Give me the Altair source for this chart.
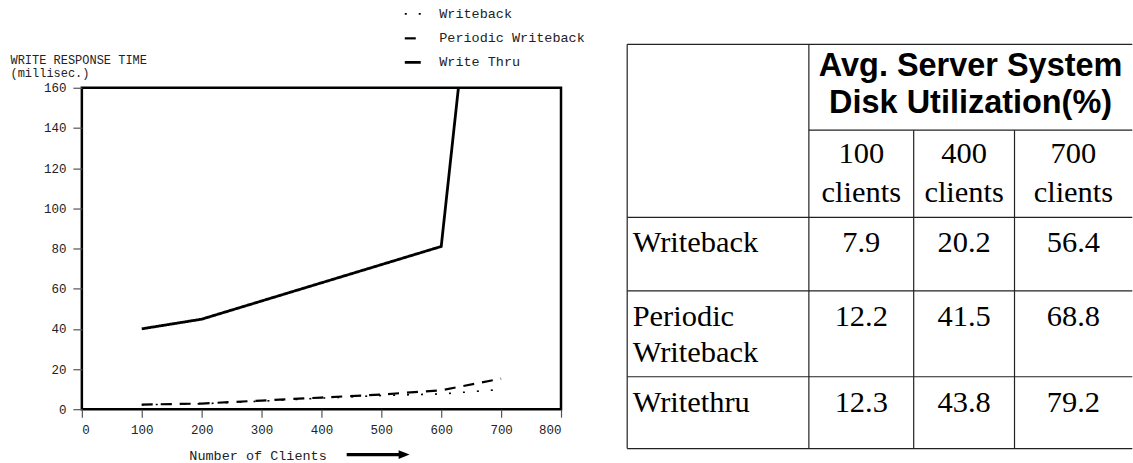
import altair as alt
import pandas as pd

# ---------------- data ----------------
series_names = ["Writeback", "Periodic Writeback", "Write Thru"]

wb_clients = [100, 200, 300, 400, 500, 600, 700]
wb_time = [2.2, 2.7, 4.0, 5.5, 6.8, 7.6, 9.8]

pw_clients = [100, 200, 300, 400, 500, 600, 700]
pw_time = [2.3, 2.8, 4.3, 5.8, 7.3, 9.4, 15.2]

wt_clients = [100, 200, 600, 700]
wt_time = [40.0, 44.8, 81.0, 356.0]

x_ticks = [0, 100, 200, 300, 400, 500, 600, 700, 800]
y_ticks = [0, 20, 40, 60, 80, 100, 120, 140, 160]

table_header = "Avg. Server System\nDisk Utilization(%)"
table_col_labels = ["100\nclients", "400\nclients", "700\nclients"]
table_row_labels = ["Writeback", "Periodic\nWriteback", "Writethru"]
util_writeback = [7.9, 20.2, 56.4]
util_periodic = [12.2, 41.5, 68.8]
util_writethru = [12.3, 43.8, 79.2]

# ---------------- line chart ----------------
rows = []
for name, xs, ys in [
    (series_names[0], wb_clients, wb_time),
    (series_names[1], pw_clients, pw_time),
    (series_names[2], wt_clients, wt_time),
]:
    for c, t in zip(xs, ys):
        rows.append({"series": name, "clients": c, "time": t})
lines_df = pd.DataFrame(rows)

MONO = "Liberation Mono"
PW, PH = 480, 322

lines = alt.Chart(lines_df).mark_line(clip=True, color="black").encode(
    x=alt.X(
        "clients:Q",
        scale=alt.Scale(domain=[0, 800], nice=False),
        axis=alt.Axis(
            values=x_ticks, title="Number of Clients", tickSize=8, labelPadding=6,
            titleX=176, titleY=46.5, titleAlign="center", titleBaseline="middle",
            titleFontSize=13.5,
        ),
    ),
    y=alt.Y(
        "time:Q",
        scale=alt.Scale(domain=[0, 160], nice=False),
        axis=alt.Axis(
            values=y_ticks, title=["WRITE RESPONSE TIME", "(millisec.)"], tickSize=9,
            labelPadding=7, titleAngle=0, titleAlign="left", titleBaseline="alphabetic",
            titleX=-72, titleY=-24, titleLineHeight=13, titleFontSize=12,
        ),
    ),
    strokeDash=alt.StrokeDash(
        "series:N",
        scale=alt.Scale(domain=series_names, range=[[2, 12], [11, 8], [1, 0]]),
        legend=alt.Legend(
            title=None, orient="none", legendX=322, legendY=-83,
            symbolType="stroke", symbolSize=256, symbolStrokeColor="black",
            symbolStrokeWidth=2.5, labelFont=MONO, labelFontSize=13.5,
            labelColor="#222", labelOffset=17, rowPadding=8, padding=0,
        ),
    ),
    strokeWidth=alt.StrokeWidth(
        "series:N",
        scale=alt.Scale(domain=series_names, range=[1.6, 2.8, 2.5]),
        legend=None,
    ),
)

one = pd.DataFrame({"k": [0]})
arrow_line = alt.Chart(one).mark_rule(color="black", strokeWidth=3.3).encode(
    x=alt.value(265.3), x2=alt.value(318), y=alt.value(367.5)
)
arrow_head = alt.Chart(one).mark_point(
    shape="M-1,-0.8L1,0L-1,0.8Z", filled=True, color="black", opacity=1, size=121
).encode(x=alt.value(322.8), y=alt.value(367.5))

left = alt.layer(lines, arrow_line, arrow_head).properties(
    width=PW, height=PH, view=alt.ViewBackground(stroke="black", strokeWidth=2.5)
)

# ---------------- table ----------------
# table layout (in px, relative to the plot origin shared with the left chart)
TW, TH = 506, 361.5
col_edges = [0, 182, 287, 388, TW]
row_edges = [-43.5, 42.5, 129.8, 203.5, 289.5, 361.5]

segs = [
    (col_edges[0], row_edges[0], col_edges[4], row_edges[0]),
    (col_edges[1], row_edges[1], col_edges[4], row_edges[1]),
    (col_edges[0], row_edges[2], col_edges[4], row_edges[2]),
    (col_edges[0], row_edges[3], col_edges[4], row_edges[3]),
    (col_edges[0], row_edges[4], col_edges[4], row_edges[4]),
    (col_edges[0], row_edges[5], col_edges[4], row_edges[5]),
    (col_edges[0], row_edges[0], col_edges[0], row_edges[5]),
    (col_edges[1], row_edges[0], col_edges[1], row_edges[5]),
    (col_edges[2], row_edges[1], col_edges[2], row_edges[5]),
    (col_edges[3], row_edges[1], col_edges[3], row_edges[5]),
]
seg_df = pd.DataFrame(segs, columns=["x", "y", "x2", "y2"])

xs_t = alt.Scale(domain=[0, TW], nice=False, zero=False)
ys_t = alt.Scale(domain=[0, TH], nice=False, zero=False, reverse=True)

grid = alt.Chart(seg_df).mark_rule(color="#222", strokeWidth=1.2).encode(
    x=alt.X("x:Q", scale=xs_t, axis=None),
    y=alt.Y("y:Q", scale=ys_t, axis=None),
    x2="x2:Q",
    y2="y2:Q",
)

header_df = pd.DataFrame(
    {"x": [(col_edges[1] + col_edges[4]) / 2], "y": [row_edges[0] + 31.5], "t": [table_header]}
)
header = alt.Chart(header_df).mark_text(
    font="Liberation Sans", fontWeight="bold", fontSize=32.5, lineBreak="\n",
    lineHeight=37, baseline="alphabetic", align="center", color="black",
).encode(
    x=alt.X("x:Q", scale=xs_t, axis=None),
    y=alt.Y("y:Q", scale=ys_t, axis=None),
    text="t:N",
)

col_centers = [(col_edges[i] + col_edges[i + 1]) / 2 for i in range(1, 4)]
colhead_df = pd.DataFrame(
    {"x": col_centers, "y": [row_edges[1] + 33] * 3, "t": table_col_labels}
)
colhead = alt.Chart(colhead_df).mark_text(
    font="Liberation Serif", fontSize=30.5, lineBreak="\n", lineHeight=39,
    baseline="alphabetic", align="center", color="black",
).encode(
    x=alt.X("x:Q", scale=xs_t, axis=None),
    y=alt.Y("y:Q", scale=ys_t, axis=None),
    text="t:N",
)

rowlab_df = pd.DataFrame(
    {
        "x": [5.5] * 3,
        "y": [row_edges[i] + 35 for i in range(2, 5)],
        "t": table_row_labels,
    }
)
rowlab = alt.Chart(rowlab_df).mark_text(
    font="Liberation Serif", fontSize=30.5, lineBreak="\n", lineHeight=36,
    baseline="alphabetic", align="left", color="black",
).encode(
    x=alt.X("x:Q", scale=xs_t, axis=None),
    y=alt.Y("y:Q", scale=ys_t, axis=None),
    text="t:N",
)

vals = []
for ri, rowvals in enumerate([util_writeback, util_periodic, util_writethru]):
    for ci, v in enumerate(rowvals):
        vals.append({"x": col_centers[ci], "y": row_edges[ri + 2] + 35, "v": v})
vals_df = pd.DataFrame(vals)
values = alt.Chart(vals_df).mark_text(
    font="Liberation Serif", fontSize=30.5, baseline="alphabetic", align="center", color="black",
).encode(
    x=alt.X("x:Q", scale=xs_t, axis=None),
    y=alt.Y("y:Q", scale=ys_t, axis=None),
    text=alt.Text("v:Q", format=".1f"),
)

table = alt.layer(grid, header, colhead, rowlab, values).properties(
    width=TW, height=TH, view=alt.ViewBackground(strokeWidth=0)
)

chart = (
    alt.hconcat(left, table, spacing=63.3)
    .properties(padding={"left": 8, "top": 4.5, "right": 0, "bottom": 0})
    .configure_view(strokeWidth=0)
    .configure_axis(
        labelFont=MONO, labelFontSize=12.5, labelColor="#222",
        tickColor="#555", tickWidth=1.2, domain=False, grid=False,
        titleFont=MONO, titleFontSize=13, titleFontWeight="normal", titleColor="#222",
    )
)

chart.save("out.html", embed_options={"renderer": "svg", "actions": False})
